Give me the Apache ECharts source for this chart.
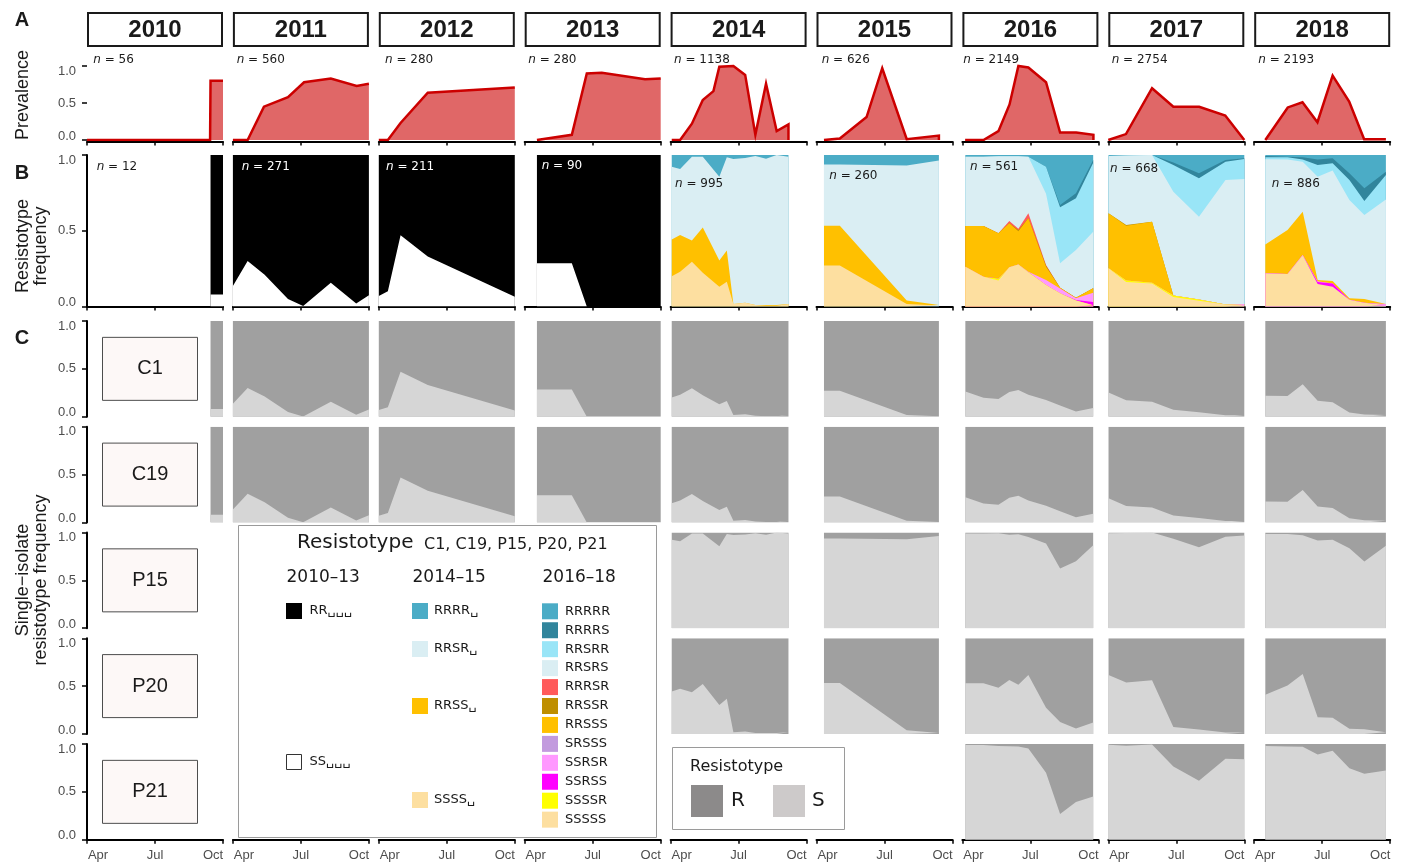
<!DOCTYPE html>
<html>
<head>
<meta charset="utf-8">
<script src="https://cdn.jsdelivr.net/npm/echarts@6.0.0/dist/echarts.min.js"></script>
<style>
  html, body { margin: 0; padding: 0; background: #fff; }
  #main { width: 1404px; height: 863px; }
</style>
</head>
<body>
<div id="main"></div>
<script>
// ---- data (x = months since 1 April) ----
const years = [2010, 2011, 2012, 2013, 2014, 2015, 2016, 2017, 2018];
const monthTicks = [0, 3, 6];
const monthLabels = ['Apr', 'Jul', 'Oct'];
const freqTicks = [0, 0.5, 1];
const nPrevalence = [56, 560, 280, 280, 1138, 626, 2149, 2754, 2193];
const nResistotype = [12, 271, 211, 90, 995, 260, 561, 668, 886];

// A: prevalence
const prevDates = [
  [0.0, 5.43, 5.45, 6.0],
  [0.0, 0.65, 1.37, 2.43, 3.14, 4.32, 5.46, 6.0],
  [0.0, 0.40, 0.96, 2.16, 6.0],
  [0.54, 2.08, 2.74, 3.40, 5.31, 6.0],
  [0.05, 0.42, 0.94, 1.42, 1.89, 2.15, 2.77, 3.29, 3.74, 4.21, 4.68, 5.20, 5.20],
  [0.33, 1.03, 2.21, 2.90, 3.98, 5.40, 5.40],
  [0.12, 0.93, 1.59, 2.08, 2.47, 2.91, 3.69, 4.31, 5.02, 5.78, 5.78],
  [0.0, 0.78, 1.93, 2.87, 4.01, 5.16, 6.0],
  [0.49, 1.48, 2.13, 2.79, 3.46, 4.19, 4.85, 5.81]
];
const prevValues = [
  [0, 0, 0.80, 0.80],
  [0, 0, 0.45, 0.58, 0.78, 0.83, 0.73, 0.76],
  [0, 0, 0.23, 0.64, 0.71],
  [0, 0.07, 0.90, 0.91, 0.82, 0.83],
  [0, 0, 0.22, 0.54, 0.66, 0.99, 1.0, 0.88, 0.07, 0.76, 0.12, 0.21, 0],
  [0, 0.02, 0.31, 0.97, 0.01, 0.06, 0],
  [0, 0, 0.12, 0.48, 1.0, 0.98, 0.78, 0.10, 0.10, 0.07, 0],
  [0, 0.08, 0.70, 0.45, 0.45, 0.33, 0],
  [0, 0.44, 0.51, 0.24, 0.87, 0.52, 0.01, 0.01]
];

// B and C: sampling dates of resistotyped isolates
const resDates = [
  [5.45, 6.0],
  [0.0, 0.65, 1.40, 2.43, 3.10, 4.32, 5.44, 6.0],
  [0.0, 0.40, 0.96, 2.16, 6.0],
  [0.54, 2.08, 2.74, 3.40, 5.31, 6.0],
  [0.05, 0.42, 0.94, 1.42, 2.15, 2.48, 2.77, 3.29, 3.74, 4.21, 4.68, 5.20],
  [0.33, 1.03, 3.98, 5.40],
  [0.13, 0.93, 1.59, 2.07, 2.47, 2.91, 3.69, 4.31, 5.01, 5.77],
  [0.01, 0.79, 1.93, 2.87, 4.0, 5.17, 6.0],
  [0.49, 1.47, 2.14, 2.80, 3.46, 4.20, 4.86, 5.81]
];

// resistotype codes, bottom of the stack first
const codes2 = ['SS', 'RR'];
const codes4 = ['SSSS', 'RRSS', 'RRSR', 'RRRR'];
const codes5 = ['SSSSS', 'SSSSR', 'SSRSS', 'SSRSR', 'SRSSS', 'RRSSS', 'RRSSR', 'RRRSR', 'RRSRS', 'RRSRR', 'RRRRS', 'RRRRR'];

// B: resistotype frequencies per year
const res2010 = { SS: [0.08, 0.08], RR: [0.92, 0.92] };
const res2011 = {
  SS: [0.135, 0.30, 0.21, 0.05, 0.003, 0.157, 0.02, 0.074],
  RR: [0.865, 0.70, 0.79, 0.95, 0.997, 0.843, 0.98, 0.926]
};
const res2012 = { SS: [0.07, 0.10, 0.47, 0.33, 0.065], RR: [0.93, 0.90, 0.53, 0.67, 0.935] };
const res2013 = { SS: [0.285, 0.285, 0, 0, 0, 0], RR: [0.715, 0.715, 1, 1, 1, 1] };
const res2014 = {
  SSSS: [0.20, 0.23, 0.296, 0.223, 0.131, 0.164, 0.017, 0.025, 0.01, 0.005, 0.005, 0.017],
  RRSS: [0.243, 0.242, 0.139, 0.298, 0.172, 0.205, 0, 0, 0, 0.005, 0.005, 0],
  RRSR: [0.48, 0.436, 0.554, 0.468, 0.554, 0.616, 0.957, 0.955, 0.983, 0.966, 0.99, 0.972],
  RRRR: [0.077, 0.092, 0.011, 0.011, 0.143, 0.015, 0.026, 0.02, 0.007, 0.024, 0.0, 0.011]
};
const res2015 = {
  SSSS: [0.27, 0.27, 0.017, 0.006],
  RRSS: [0.263, 0.263, 0.022, 0.004],
  RRSR: [0.405, 0.405, 0.891, 0.953],
  RRRR: [0.062, 0.062, 0.07, 0.037]
};
const res2016 = {
  SSSSS: [0.263, 0.197, 0.171, 0.259, 0.278, 0.226, 0.142, 0.087, 0.039, 0.008],
  SSSSR: [0, 0, 0.013, 0, 0, 0, 0, 0, 0, 0],
  SSRSS: [0, 0, 0, 0, 0, 0, 0, 0, 0.004, 0.022],
  SSRSR: [0, 0, 0, 0, 0, 0.004, 0.033, 0.031, 0.011, 0.061],
  RRSSS: [0.268, 0.334, 0.299, 0.29, 0.218, 0.352, 0.088, 0.006, 0.004, 0.029],
  RRSSR: [0, 0, 0, 0, 0.009, 0, 0.006, 0, 0, 0],
  RRRSR: [0, 0, 0, 0.015, 0.009, 0.033, 0.005, 0, 0, 0],
  RRSRS: [0.458, 0.458, 0.509, 0.428, 0.478, 0.374, 0.47, 0.161, 0.315, 0.374],
  RRSRR: [0, 0, 0, 0, 0, 0, 0.179, 0.37, 0.341, 0.455],
  RRRRS: [0, 0, 0, 0, 0, 0, 0, 0.015, 0.033, 0.018],
  RRRRR: [0.011, 0.011, 0.008, 0.008, 0.008, 0.011, 0.077, 0.33, 0.253, 0.033]
};
const res2017 = {
  SSSSS: [0.252, 0.162, 0.152, 0.063, 0.038, 0.014, 0.01],
  SSSSR: [0, 0.009, 0.005, 0.009, 0.009, 0, 0],
  SSRSR: [0, 0, 0, 0, 0, 0, 0.006],
  RRSSS: [0.363, 0.362, 0.403, 0, 0, 0, 0],
  RRSSR: [0, 0.005, 0, 0, 0, 0, 0],
  RRSRS: [0.378, 0.458, 0.44, 0.686, 0.546, 0.821, 0.826],
  RRSRR: [0, 0, 0, 0.176, 0.253, 0.121, 0.132],
  RRRRS: [0, 0, 0, 0.016, 0.033, 0.011, 0.004],
  RRRRR: [0.007, 0.004, 0, 0.05, 0.121, 0.033, 0.022]
};
const res2018 = {
  SSSSS: [0.219, 0.215, 0.34, 0.149, 0.131, 0.045, 0.024, 0.01],
  SSRSS: [0, 0, 0, 0.013, 0.021, 0, 0, 0],
  SSRSR: [0, 0, 0, 0.004, 0, 0, 0, 0.007],
  RRSSS: [0.191, 0.29, 0.286, 0.009, 0.016, 0.009, 0.026, 0],
  RRSRS: [0.562, 0.466, 0.33, 0.682, 0.729, 0.649, 0.554, 0.69],
  RRSRR: [0.013, 0.014, 0.015, 0.077, 0.048, 0.132, 0.092, 0.161],
  RRRRS: [0.008, 0.004, 0.014, 0.037, 0.033, 0.044, 0.084, 0.022],
  RRRRR: [0.007, 0.011, 0.015, 0.029, 0.022, 0.121, 0.22, 0.11]
};

// C: frequency of the susceptible (S) type per marker and year
const sC1 = [
  [0.08, 0.08],
  [0.135, 0.30, 0.21, 0.05, 0.003, 0.157, 0.02, 0.074],
  [0.07, 0.10, 0.47, 0.33, 0.065],
  [0.285, 0.285, 0, 0, 0, 0],
  [0.20, 0.23, 0.296, 0.223, 0.131, 0.164, 0.017, 0.025, 0.01, 0.005, 0.005, 0.017],
  [0.27, 0.27, 0.017, 0.006],
  [0.263, 0.197, 0.184, 0.259, 0.278, 0.23, 0.175, 0.118, 0.054, 0.091],
  [0.252, 0.171, 0.157, 0.072, 0.047, 0.014, 0.016],
  [0.219, 0.215, 0.34, 0.166, 0.152, 0.045, 0.024, 0.017]
];
const sC19 = [
  [0.08, 0.08],
  [0.135, 0.30, 0.21, 0.05, 0.003, 0.157, 0.02, 0.074],
  [0.07, 0.10, 0.47, 0.33, 0.065],
  [0.285, 0.285, 0, 0, 0, 0],
  [0.20, 0.23, 0.296, 0.223, 0.131, 0.164, 0.017, 0.025, 0.01, 0.005, 0.005, 0.017],
  [0.27, 0.27, 0.017, 0.006],
  [0.263, 0.197, 0.184, 0.259, 0.278, 0.23, 0.175, 0.118, 0.054, 0.091],
  [0.252, 0.171, 0.157, 0.072, 0.047, 0.014, 0.016],
  [0.219, 0.215, 0.34, 0.166, 0.152, 0.045, 0.024, 0.017]
];
const sP15 = [
  null, null, null, null,
  [0.923, 0.908, 0.989, 0.989, 0.857, 0.985, 0.974, 0.98, 0.993, 0.976, 1.0, 0.989],
  [0.938, 0.938, 0.93, 0.963],
  [0.989, 0.989, 0.992, 0.977, 0.983, 0.952, 0.885, 0.624, 0.699, 0.866],
  [0.993, 0.996, 1.0, 0.934, 0.846, 0.956, 0.968],
  [0.985, 0.985, 0.971, 0.917, 0.924, 0.835, 0.696, 0.861]
];
const sP20 = [
  null, null, null, null,
  [0.443, 0.472, 0.435, 0.521, 0.303, 0.369, 0.017, 0.025, 0.01, 0.01, 0.01, 0.017],
  [0.533, 0.533, 0.039, 0.01],
  [0.531, 0.531, 0.483, 0.564, 0.514, 0.615, 0.274, 0.124, 0.058, 0.12],
  [0.615, 0.538, 0.56, 0.072, 0.047, 0.014, 0.016],
  [0.41, 0.505, 0.626, 0.175, 0.168, 0.054, 0.05, 0.017]
];
const sP21 = [
  null, null, null, null, null, null,
  [0.989, 0.989, 0.979, 0.977, 0.974, 0.952, 0.70, 0.269, 0.395, 0.451],
  [0.993, 0.982, 0.995, 0.765, 0.617, 0.846, 0.84],
  [0.98, 0.975, 0.97, 0.89, 0.93, 0.747, 0.688, 0.722]
];
const markers = ['C1', 'C19', 'P15', 'P20', 'P21'];

// ---- styles ----
const resByYear = [res2010, res2011, res2012, res2013, res2014, res2015, res2016, res2017, res2018];
const codesByYear = [codes2, codes2, codes2, codes2, codes4, codes4, codes5, codes5, codes5];
const singleByMarker = [sC1, sC19, sP15, sP20, sP21];
const codeColor = {
  RR: '#000000', SS: '#ffffff',
  RRRR: '#4bacc6', RRSR: '#daeef3', RRSS: '#ffc000', SSSS: '#fddfa0',
  RRRRR: '#4bacc6', RRRRS: '#31859c', RRSRR: '#99e5f7', RRSRS: '#daeef3',
  RRRSR: '#ff5b5b', RRSSR: '#bf8f00', RRSSS: '#ffc000', SRSSS: '#c29ade',
  SSRSR: '#ff99ff', SSRSS: '#ff00ff', SSSSR: '#ffff00', SSSSS: '#fddfa0'
};
const rsColor = { S: '#d6d6d6', R: '#a0a0a0' };
const SANS = '"Liberation Sans", Arial, sans-serif';
const DEJA = '"DejaVu Sans", Verdana, sans-serif';

const colLeft = c => 87 + 145.9 * c;
const COL_W = 136;
const rowBoxes = [
  { top: 51.2, height: 88.8, max: 1.2 },
  { top: 155, height: 151.5, max: 1 }
];
for (let k = 0; k < 5; k++) rowBoxes.push({ top: 321 + 105.75 * k, height: 95.7, max: 1 });
const NROW = rowBoxes.length;
const gi = (r, c) => r * 9 + c;

const grids = [], xAxes = [], yAxes = [], series = [];
const labelFont = { color: '#4d4d4d', fontSize: 13, fontFamily: SANS };

for (let r = 0; r < NROW; r++) {
  for (let c = 0; c < 9; c++) {
    const b = rowBoxes[r];
    const idx = gi(r, c);
    const bottomRow = r === NROW - 1;
    grids.push({ left: colLeft(c), top: b.top, width: COL_W, height: b.height, outerBoundsMode: 'none' });
    xAxes.push({
      gridIndex: idx, type: 'value', min: 0, max: 6, interval: 3,
      show: r <= 1 || bottomRow,
      offset: r === 0 ? 1.5 : 0,
      axisLine: { show: true, onZero: false, lineStyle: { color: '#000', width: 2 } },
      axisTick: { show: true, customValues: monthTicks, length: 4, lineStyle: { color: '#000', width: 1.5 } },
      axisLabel: {
        show: bottomRow, customValues: monthTicks, margin: 9,
        formatter: v => v === 0 ? '{l|Apr}' : (v === 3 ? '{m|Jul}' : '{r|Oct}'),
        rich: {
          l: Object.assign({ padding: [0, 0, 0, 22] }, labelFont),
          m: Object.assign({}, labelFont),
          r: Object.assign({ padding: [0, 20, 0, 0] }, labelFont)
        }
      },
      splitLine: { show: false }
    });
    yAxes.push({
      gridIndex: idx, type: 'value', min: 0, max: b.max, interval: 0.5,
      show: c === 0,
      offset: 2,
      axisLine: { show: r > 0, lineStyle: { color: '#000', width: 2 } },
      axisTick: { show: true, customValues: freqTicks, length: 5, lineStyle: { color: '#000', width: 1.5 } },
      axisLabel: {
        show: true, customValues: freqTicks, margin: 9,
        formatter: v => v === 0 ? '{lo|0.0}' : (v === 1 ? '{hi|1.0}' : '{mid|0.5}'),
        rich: {
          lo: Object.assign({ padding: [0, 0, 8, 0] }, labelFont),
          mid: Object.assign({}, labelFont),
          hi: Object.assign({ padding: [10, 0, 0, 0] }, labelFont)
        }
      },
      splitLine: { show: false }
    });
  }
}

// stacked areas: cumulative totals, drawn from the top layer down
function addStack(idx, dates, codes, layers, colors) {
  const present = codes.filter(code => layers[code]);
  let run = dates.map(() => 0);
  const cums = present.map(code => {
    run = run.map((v, k) => v + layers[code][k]);
    return { code, vals: run };
  });
  cums.reverse().forEach(({ code, vals }) => {
    series.push({
      type: 'line', xAxisIndex: idx, yAxisIndex: idx, silent: true,
      symbol: 'none', showSymbol: false,
      data: dates.map((d, k) => [d, vals[k]]),
      lineStyle: { width: 0, opacity: 0 },
      areaStyle: { color: colors[code], opacity: 1 }
    });
  });
}

years.forEach((yr, c) => {
  // A
  series.push({
    type: 'line', xAxisIndex: gi(0, c), yAxisIndex: gi(0, c), silent: true,
    symbol: 'none', showSymbol: false,
    data: prevDates[c].map((d, k) => [d, prevValues[c][k]]),
    lineStyle: { color: '#cc0000', width: 2.5, join: 'miter' },
    areaStyle: { color: '#e06767', opacity: 1 }
  });
  // B
  addStack(gi(1, c), resDates[c], codesByYear[c], resByYear[c], codeColor);
  // C
  singleByMarker.forEach((arr, m) => {
    const s = arr[c];
    if (!s) return;
    addStack(gi(2 + m, c), resDates[c], ['S', 'R'], { S: s, R: s.map(v => 1 - v) }, rsColor);
  });
});

// ---- annotations ----
const gfx = [];
function txt(x, y, str, font, o) {
  o = o || {};
  gfx.push({
    type: 'text', x, y, z: 100, rotation: o.rot || 0, silent: true,
    style: {
      text: str, font, fill: o.fill || '#1a1a1a',
      align: o.align || 'left', verticalAlign: 'middle',
      textAlign: o.align || 'left', textVerticalAlign: 'middle',
      rich: o.rich
    }
  });
}
function box(x, y, w, h, fill, stroke, lw) {
  gfx.push({ type: 'rect', z: 99, silent: true, shape: { x, y, width: w, height: h },
    style: { fill, stroke: stroke || null, lineWidth: lw || 0 } });
}

// strips
years.forEach((yr, c) => {
  box(colLeft(c) + 1, 13, COL_W - 2, 33, '#fff', '#1a1a1a', 2);
  txt(colLeft(c) + COL_W / 2, 30, String(yr), 'bold 24px ' + SANS, { align: 'center' });
});
// panel letters and axis titles
txt(22, 20, 'A', 'bold 20px ' + SANS, { align: 'center' });
txt(22, 173, 'B', 'bold 20px ' + SANS, { align: 'center' });
txt(22, 338, 'C', 'bold 20px ' + SANS, { align: 'center' });
const rot = Math.PI / 2;
txt(23, 95, 'Prevalence', '18px ' + SANS, { align: 'center', rot });
txt(23, 246, 'Resistotype', '18px ' + SANS, { align: 'center', rot });
txt(41.5, 246, 'frequency', '18px ' + SANS, { align: 'center', rot });
txt(23, 580, 'Single\u2212isolate', '18px ' + SANS, { align: 'center', rot });
txt(41.5, 580, 'resistotype frequency', '18px ' + SANS, { align: 'center', rot });

// n labels
const nPosA = [93.3, 236.7, 385, 528.3, 674, 821.7, 963.3, 1111.7, 1258.3];
const nPosB = [[96.7, 166.7], [241.7, 166.7], [386, 166.7], [541.7, 166], [675, 184.3],
  [829.3, 175.7], [970, 166.7], [1110, 169], [1271.7, 184]];
const nFont = '12px ' + DEJA;
function nRich(fill) {
  return { i: { fontStyle: 'italic', fontSize: 12, fontFamily: DEJA, fill } };
}
years.forEach((yr, c) => {
  txt(nPosA[c], 59.5, '{i|n} = ' + nPrevalence[c], nFont, { rich: nRich('#1a1a1a') });
  const fill = (c >= 1 && c <= 3) ? '#ffffff' : '#1a1a1a';
  txt(nPosB[c][0], nPosB[c][1], '{i|n} = ' + nResistotype[c], nFont, { fill, rich: nRich(fill) });
});

// marker label boxes
markers.forEach((mk, m) => {
  const cy = rowBoxes[2 + m].top + rowBoxes[2 + m].height / 2;
  box(102.5, cy - 31.5, 95, 63, '#fdf8f7', '#4d4d4d', 1);
  txt(150, cy, mk, '20px ' + SANS, { align: 'center' });
});

// legend: resistotype colours
box(238.5, 525.5, 418, 312, '#fff', '#9a9a9a', 1);
txt(297, 543, 'Resistotype', '20px ' + DEJA);
txt(424, 545, 'C1, C19, P15, P20, P21', '16px ' + DEJA);
txt(286.5, 578, '2010\u201313', '17px ' + DEJA);
txt(412.5, 578, '2014\u201315', '17px ' + DEJA);
txt(542.5, 578, '2016\u201318', '17px ' + DEJA);
const itemFont = '13px ' + DEJA;
box(286, 603, 16, 16, '#000');
txt(309.5, 611, 'RR\u2423\u2423\u2423', itemFont);
box(286.5, 754.5, 15, 15, '#fff', '#333', 1);
txt(309.5, 762, 'SS\u2423\u2423\u2423', itemFont);
const col2Y = { RRRR: 603, RRSR: 641, RRSS: 698, SSSS: 792 };
Object.keys(col2Y).forEach(code => {
  box(412, col2Y[code], 16, 16, codeColor[code]);
  txt(434, col2Y[code] + 8, code + '\u2423', itemFont);
});
codes5.slice().reverse().forEach((code, k) => {
  const y = 603.3 + 18.94 * k;
  box(542, y, 16, 16, codeColor[code]);
  txt(565, y + 8, code, itemFont);
});

// legend: R / S
box(672.5, 747.5, 172, 82, '#fff', '#9a9a9a', 1);
txt(690, 767, 'Resistotype', '16px ' + DEJA);
box(691, 785, 32, 32, '#8c8a8a');
txt(731, 801, 'R', '20px ' + DEJA);
box(773, 785, 32, 32, '#cdcaca');
txt(812, 801, 'S', '20px ' + DEJA);

const chart = echarts.init(document.getElementById('main'), null, { renderer: 'canvas' });
chart.setOption({
  animation: false,
  backgroundColor: '#ffffff',
  grid: grids,
  xAxis: xAxes,
  yAxis: yAxes,
  series: series,
  graphic: { elements: gfx }
});
window.addEventListener('resize', chart.resize);
</script>
</body>
</html>
